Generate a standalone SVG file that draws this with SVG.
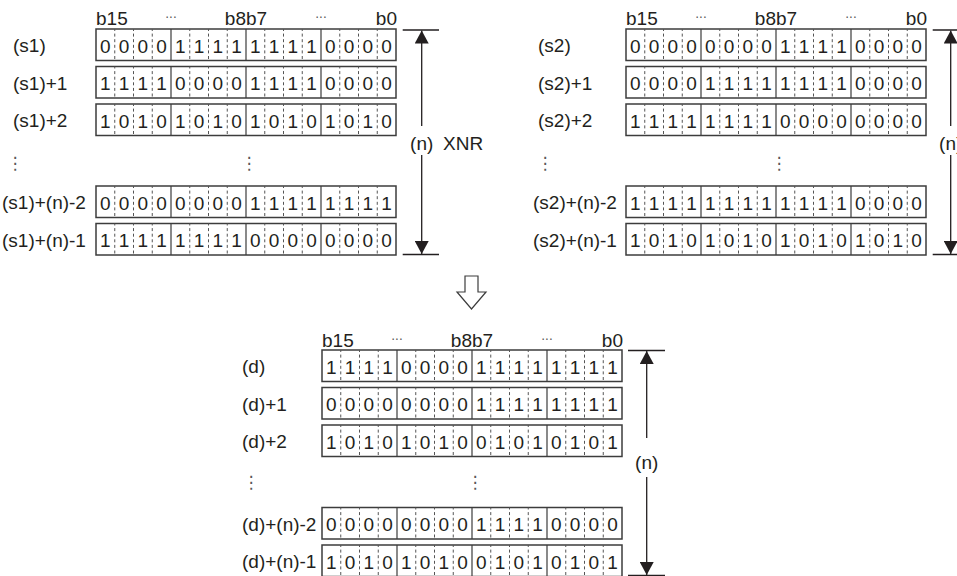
<svg xmlns="http://www.w3.org/2000/svg" xmlns:xlink="http://www.w3.org/1999/xlink" width="957" height="576" viewBox="0 0 957 576">
<style>
text{font-family:"Liberation Sans",Arial,sans-serif;font-size:19px;fill:#231f20}
.bits{text-anchor:middle}
.mid{text-anchor:middle}
.end{text-anchor:end}
.dots{font-family:"DejaVu Sans",sans-serif;font-size:17px;text-anchor:middle;fill:#555}
.hd{font-family:"DejaVu Sans",sans-serif;font-size:12px;text-anchor:middle;fill:#555}
.box{fill:#fff;stroke:#3c3c3c;stroke-width:1.5}
.sol{stroke:#3c3c3c;stroke-width:1.2;fill:none}
.dash{stroke:#555;stroke-width:1;stroke-dasharray:3 2.6;stroke-dashoffset:1;fill:none}
.dim{stroke:#231f20;stroke-width:1.3;fill:none}
</style>
<defs>
<g id="frame">
<rect class="box" x="0" y="0" width="300" height="31.5"/>
<path class="sol" d="M75 0V31.5M150 0V31.5M225 0V31.5"/>
<path class="dash" d="M18.75 0V31.5M37.5 0V31.5M56.25 0V31.5M93.75 0V31.5M112.5 0V31.5M131.25 0V31.5M168.75 0V31.5M187.5 0V31.5M206.25 0V31.5M243.75 0V31.5M262.5 0V31.5M281.25 0V31.5"/>
</g>
<marker id="ah" viewBox="0 0 13 14" refX="13" refY="7" markerWidth="13" markerHeight="14" orient="auto" markerUnits="userSpaceOnUse">
<path d="M0 0L13 7L0 14z" fill="#231f20"/>
</marker>
</defs>

<!-- headers -->
<g id="hdr-s1">
<text x="96" y="25">b15</text><text class="hd" x="171" y="22">···</text><text class="mid" x="246" y="25">b8b7</text><text class="hd" x="321" y="22">···</text><text class="end" x="397" y="25">b0</text>
</g>
<g id="hdr-s2">
<text x="626" y="25">b15</text><text class="hd" x="701" y="22">···</text><text class="mid" x="776" y="25">b8b7</text><text class="hd" x="851" y="22">···</text><text class="end" x="927" y="25">b0</text>
</g>
<g id="hdr-d">
<text x="322" y="347">b15</text><text class="hd" x="397" y="344">···</text><text class="mid" x="472" y="347">b8b7</text><text class="hd" x="547" y="344">···</text><text class="end" x="623" y="347">b0</text>
</g>

<!-- s1 block -->
<g id="s1-0"><text x="13" y="52">(s1)</text><g transform="translate(96,29)"><use xlink:href="#frame"/><text class="bits" x="9.4 28.1 46.9 65.6 84.4 103.1 121.9 140.6 159.4 178.1 196.9 215.6 234.4 253.1 271.9 290.6" y="23.5">0000111111110000</text></g></g>
<g id="s1-1"><text x="13" y="89.5">(s1)+1</text><g transform="translate(96,66.5)"><use xlink:href="#frame"/><text class="bits" x="9.4 28.1 46.9 65.6 84.4 103.1 121.9 140.6 159.4 178.1 196.9 215.6 234.4 253.1 271.9 290.6" y="23.5">1111000011110000</text></g></g>
<g id="s1-2"><text x="13" y="127">(s1)+2</text><g transform="translate(96,104)"><use xlink:href="#frame"/><text class="bits" x="9.4 28.1 46.9 65.6 84.4 103.1 121.9 140.6 159.4 178.1 196.9 215.6 234.4 253.1 271.9 290.6" y="23.5">1010101010101010</text></g></g>
<g id="s1-dots"><text class="dots" x="15" y="169">⋮</text><text class="dots" x="249" y="169">⋮</text></g>
<g id="s1-n2"><text x="2" y="209">(s1)+(n)-2</text><g transform="translate(96,186)"><use xlink:href="#frame"/><text class="bits" x="9.4 28.1 46.9 65.6 84.4 103.1 121.9 140.6 159.4 178.1 196.9 215.6 234.4 253.1 271.9 290.6" y="23.5">0000000011111111</text></g></g>
<g id="s1-n1"><text x="2" y="246.5">(s1)+(n)-1</text><g transform="translate(96,223.5)"><use xlink:href="#frame"/><text class="bits" x="9.4 28.1 46.9 65.6 84.4 103.1 121.9 140.6 159.4 178.1 196.9 215.6 234.4 253.1 271.9 290.6" y="23.5">1111111100000000</text></g></g>

<!-- s2 block -->
<g id="s2-0"><text x="538" y="52">(s2)</text><g transform="translate(626,29)"><use xlink:href="#frame"/><text class="bits" x="9.4 28.1 46.9 65.6 84.4 103.1 121.9 140.6 159.4 178.1 196.9 215.6 234.4 253.1 271.9 290.6" y="23.5">0000000011110000</text></g></g>
<g id="s2-1"><text x="538" y="89.5">(s2)+1</text><g transform="translate(626,66.5)"><use xlink:href="#frame"/><text class="bits" x="9.4 28.1 46.9 65.6 84.4 103.1 121.9 140.6 159.4 178.1 196.9 215.6 234.4 253.1 271.9 290.6" y="23.5">0000111111110000</text></g></g>
<g id="s2-2"><text x="538" y="127">(s2)+2</text><g transform="translate(626,104)"><use xlink:href="#frame"/><text class="bits" x="9.4 28.1 46.9 65.6 84.4 103.1 121.9 140.6 159.4 178.1 196.9 215.6 234.4 253.1 271.9 290.6" y="23.5">1111111100000000</text></g></g>
<g id="s2-dots"><text class="dots" x="545" y="169">⋮</text><text class="dots" x="779" y="169">⋮</text></g>
<g id="s2-n2"><text x="533" y="209">(s2)+(n)-2</text><g transform="translate(626,186)"><use xlink:href="#frame"/><text class="bits" x="9.4 28.1 46.9 65.6 84.4 103.1 121.9 140.6 159.4 178.1 196.9 215.6 234.4 253.1 271.9 290.6" y="23.5">1111111111110000</text></g></g>
<g id="s2-n1"><text x="533" y="246.5">(s2)+(n)-1</text><g transform="translate(626,223.5)"><use xlink:href="#frame"/><text class="bits" x="9.4 28.1 46.9 65.6 84.4 103.1 121.9 140.6 159.4 178.1 196.9 215.6 234.4 253.1 271.9 290.6" y="23.5">1010101010101010</text></g></g>

<!-- d block -->
<g id="d-0"><text x="242" y="373">(d)</text><g transform="translate(322,350)"><use xlink:href="#frame"/><text class="bits" x="9.4 28.1 46.9 65.6 84.4 103.1 121.9 140.6 159.4 178.1 196.9 215.6 234.4 253.1 271.9 290.6" y="23.5">1111000011111111</text></g></g>
<g id="d-1"><text x="242" y="410.5">(d)+1</text><g transform="translate(322,387.5)"><use xlink:href="#frame"/><text class="bits" x="9.4 28.1 46.9 65.6 84.4 103.1 121.9 140.6 159.4 178.1 196.9 215.6 234.4 253.1 271.9 290.6" y="23.5">0000000011111111</text></g></g>
<g id="d-2"><text x="242" y="448">(d)+2</text><g transform="translate(322,425)"><use xlink:href="#frame"/><text class="bits" x="9.4 28.1 46.9 65.6 84.4 103.1 121.9 140.6 159.4 178.1 196.9 215.6 234.4 253.1 271.9 290.6" y="23.5">1010101001010101</text></g></g>
<g id="d-dots"><text class="dots" x="251" y="488">⋮</text><text class="dots" x="475" y="488">⋮</text></g>
<g id="d-n2"><text x="242" y="530.5">(d)+(n)-2</text><g transform="translate(322,507.5)"><use xlink:href="#frame"/><text class="bits" x="9.4 28.1 46.9 65.6 84.4 103.1 121.9 140.6 159.4 178.1 196.9 215.6 234.4 253.1 271.9 290.6" y="23.5">0000000011110000</text></g></g>
<g id="d-n1"><text x="242" y="568">(d)+(n)-1</text><g transform="translate(322,545)"><use xlink:href="#frame"/><text class="bits" x="9.4 28.1 46.9 65.6 84.4 103.1 121.9 140.6 159.4 178.1 196.9 215.6 234.4 253.1 271.9 290.6" y="23.5">1010101001010101</text></g></g>

<!-- connectors -->
<g id="connectors">
<path class="dim" d="M402.7 30H439M402.7 254.5H439"/>
<path class="dim" d="M421.7 126V30.5" marker-end="url(#ah)"/>
<path class="dim" d="M421.7 155V254" marker-end="url(#ah)"/>
<path class="dim" d="M932.7 30H957M932.7 254.5H957"/>
<path class="dim" d="M950.7 126V30.5" marker-end="url(#ah)"/>
<path class="dim" d="M950.7 155V254" marker-end="url(#ah)"/>
<path class="dim" d="M628 350.5H665M628 575.5H665"/>
<path class="dim" d="M646.7 438V351" marker-end="url(#ah)"/>
<path class="dim" d="M646.7 477V575" marker-end="url(#ah)"/>
<path id="flow" d="M465 276H478V292H486L471.5 309L457 292H465Z" fill="#fff" stroke="#3c3c3c" stroke-width="1.2"/>
</g>
<g id="labels-n">
<text class="mid" x="421.7" y="150">(n)</text><text x="443" y="150">XNR</text>
<text class="mid" x="950.7" y="150">(n)</text>
<text class="mid" x="646.7" y="469">(n)</text>
</g>
</svg>
